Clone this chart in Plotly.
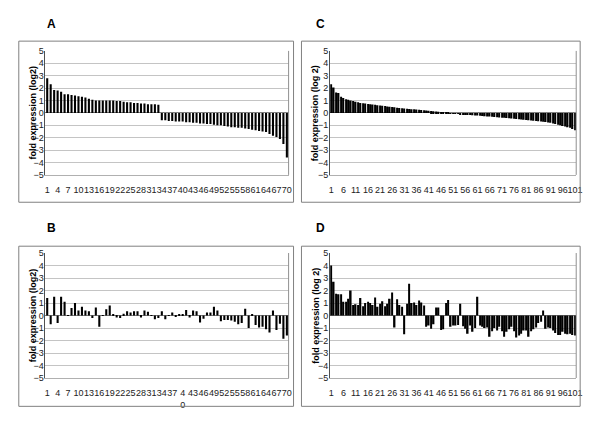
import plotly.graph_objects as go

# ---------------- data ----------------
categories_ab = list(range(1, 71))
categories_cd = list(range(1, 102))

a_values = [2.8, 2.3, 1.85, 1.8, 1.7, 1.5, 1.5, 1.45, 1.4, 1.35,
            1.3, 1.25, 1.15, 1.05, 1.0, 1.0, 1.0, 1.0, 1.0, 1.0,
            0.95, 0.95, 0.9, 0.85, 0.85, 0.8, 0.8, 0.75, 0.75, 0.7,
            0.7, 0.7, 0.65,
            -0.6, -0.6, -0.65, -0.65, -0.7, -0.7, -0.7, -0.75, -0.75, -0.8,
            -0.8, -0.85, -0.85, -0.9, -0.9, -0.95, -1.0, -1.0, -1.05, -1.1,
            -1.15, -1.15, -1.2, -1.2, -1.25, -1.3, -1.35, -1.4, -1.45, -1.5,
            -1.55, -1.7, -1.85, -1.95, -2.1, -2.5, -3.6]

b_values = [1.4, -0.7, 1.5, -0.6, 1.5, 1.1, 0.03, 0.6, 1.0, 0.4,
            0.7, 0.4, 0.35, -0.2, 0.65, -0.9, 0.02, 0.5, 0.8, 0.05,
            -0.15, -0.2, 0.15, 0.35, 0.25, 0.35, 0.35, -0.15, 0.4, 0.3,
            0.02, -0.3, -0.2, 0.35, -0.3, 0.02, 0.25, -0.1, 0.1, 0.05,
            0.45, -0.15, 0.4, 0.35, -0.55, -0.25, 0.25, 0.25, 0.7, 0.4,
            -0.45, -0.35, -0.35, -0.4, -0.5, -0.7, -0.6, 0.55, -1.0, 0.1,
            -0.75, -0.95, -0.9, -1.1, -1.35, 0.4, -1.15, -0.65, -1.85, -1.6]

c_values = [2.3, 2.05, 1.65, 1.6, 1.3, 1.2, 1.1, 1.05, 1.0, 0.95,
            0.9, 0.85, 0.8, 0.78, 0.75, 0.72, 0.7, 0.68, 0.65, 0.62,
            0.6, 0.58, 0.55, 0.52, 0.5, 0.48, 0.45, 0.42, 0.4, 0.38,
            0.36, 0.34, 0.32, 0.3, 0.3, 0.28, 0.26, 0.24, 0.22, 0.2,
            0.18, 0.15, 0.13, 0.12, 0.1, 0.08, 0.06, 0.04, 0.02,
            -0.02, -0.04, -0.06, -0.08, -0.1, -0.12, -0.14, -0.15, -0.17, -0.19,
            -0.2, -0.22, -0.24, -0.25, -0.27, -0.29, -0.3, -0.32, -0.34, -0.35,
            -0.37, -0.39, -0.4, -0.42, -0.44, -0.46, -0.48, -0.5, -0.52, -0.54,
            -0.56, -0.58, -0.6, -0.62, -0.64, -0.66, -0.68, -0.7, -0.72, -0.74,
            -0.77, -0.8, -0.85, -0.9, -0.95, -1.0, -1.05, -1.1, -1.15, -1.2,
            -1.3, -1.4]

d_values = [4.0, 2.7, 1.75, 1.7, 1.7, 1.1, 1.1, 1.35, 2.0, 0.85,
            0.9, 0.85, 1.4, 0.75, 1.0, 1.1, 1.0, 0.85, 1.45, 0.7,
            0.95, 1.15, 0.75, 0.95, 1.35, 1.85, -0.95, 1.3, 0.85, 0.7,
            -1.5, 0.95, 2.55, 1.0, 1.05, 0.85, 1.2, 1.05, 0.8, -0.9,
            -0.8, -1.05, -0.7, 0.65, 0.65, -1.15, -1.1, 1.0, 1.25, -0.9,
            -0.8, -0.8, -0.75, 0.95, -0.85, -1.05, -1.45, -0.8, -1.3, -1.0,
            1.5, -0.8, -0.9, -1.0, -0.95, -1.7, -1.25, -1.0, -1.2, -0.9,
            -1.25, -1.7, -1.3, -1.1, -0.9, -1.25, -1.75, -1.6, -1.45, -1.2,
            -1.2, -1.7, -1.25, -1.1, -0.95, -0.6, -0.5, 0.4, -1.05, -0.95,
            -1.0, -1.2, -1.4, -1.55, -1.55, -1.3, -1.45, -1.5, -1.45, -1.55,
            -1.6]

ab_tickvals = list(range(1, 71, 3))
cd_tickvals = list(range(1, 102, 5))
a_ticktext = [str(v) for v in ab_tickvals]
b_ticktext = ["4<br>0" if v == 40 else str(v) for v in ab_tickvals]
cd_ticktext = [str(v) for v in cd_tickvals]
y_ticks = list(range(-5, 6))

panel_letters = ["A", "B", "C", "D"]
y_titles = ["fold expression (log2)", "fold expression (log2)",
            "fold expression (log 2)", "fold expression (log 2)"]

# ---------------- layout helpers ----------------
W, H = 600, 425
def px(x):
    return x / W
def py(y):
    return 1 - y / H

FONT = "Liberation Sans, Arial, sans-serif"
panels = [
    dict(vals=a_values, cats=categories_ab, tv=ab_tickvals, tt=a_ticktext,
         px0=45, px1=291, pyt=47, pyb=174, box=(18, 37, 296, 202), let=(51, 19), tx=32),
    dict(vals=b_values, cats=categories_ab, tv=ab_tickvals, tt=b_ticktext,
         px0=45, px1=291, pyt=254, pyb=382, box=(18, 247, 296, 411), let=(51, 228), tx=32),
    dict(vals=c_values, cats=categories_cd, tv=cd_tickvals, tt=cd_ticktext,
         px0=333, px1=582, pyt=47, pyb=174, box=(304, 37, 586, 202), let=(323, 19), tx=318),
    dict(vals=d_values, cats=categories_cd, tv=cd_tickvals, tt=cd_ticktext,
         px0=333, px1=582, pyt=254, pyb=382, box=(304, 247, 586, 411), let=(323, 228), tx=318),
]

fig = go.Figure()
shapes = []
annotations = []
for i, p in enumerate(panels):
    n = i + 1
    xa = "x" if n == 1 else f"x{n}"
    ya = "y" if n == 1 else f"y{n}"
    fig.add_trace(go.Bar(x=p["cats"], y=p["vals"], xaxis=xa, yaxis=ya,
                         marker=dict(color="#000000", line=dict(width=0)),
                         showlegend=False, hoverinfo="x+y"))
    ydom = [py(p["pyb"]), py(p["pyt"])]
    xdom = [px(p["px0"]), px(p["px1"])]
    zero_pos = (ydom[0] + ydom[1]) / 2
    xkey = "xaxis" if n == 1 else f"xaxis{n}"
    ykey = "yaxis" if n == 1 else f"yaxis{n}"
    ncat = len(p["cats"])
    fig.update_layout(**{
        xkey: dict(domain=xdom, anchor=ya,
                   range=[0.5, ncat + 0.5], tickmode="array",
                   tickvals=p["tv"], ticktext=p["tt"], tickangle=0,
                   ticks="", showgrid=False, zeroline=False,
                   showline=True, linecolor="#b0b0b0", linewidth=1,
                   ticklabelstandoff=6,
                   tickfont=dict(family=FONT, size=9, color="#222222")),
        f"xaxis{n + 4}": dict(domain=xdom, overlaying=xa, anchor="free",
                              position=zero_pos, range=[0.5, ncat + 0.5],
                              showticklabels=False, ticks="",
                              showgrid=False, zeroline=False, showline=False,
                              minor=dict(ticks="outside", tick0=0.5, dtick=1,
                                         ticklen=3, tickcolor="#808080",
                                         showgrid=False)),
        ykey: dict(domain=ydom, anchor=xa, range=[-5, 5], tickmode="array",
                   tickvals=y_ticks, showgrid=True, gridcolor="#c4c4c4",
                   gridwidth=1, zeroline=True, zerolinecolor="#808080",
                   zerolinewidth=1, showline=True,
                   linecolor="#505050", linewidth=1, ticks="",
                   ticklabelstandoff=-1,
                   tickfont=dict(family=FONT, size=9, color="#222222")),
    })
    shapes.append(dict(type="line", xref="paper", yref="paper",
                       x0=xdom[1], x1=xdom[1], y0=ydom[0], y1=ydom[1],
                       line=dict(color="#909090", width=1)))
    bx0, by0, bx1, by1 = p["box"]
    shapes.append(dict(type="rect", xref="paper", yref="paper",
                       x0=px(bx0), x1=px(bx1), y0=py(by1), y1=py(by0),
                       line=dict(color="#808080", width=1)))
    annotations.append(dict(text=panel_letters[i], xref="paper", yref="paper",
                            x=px(p["let"][0]), y=py(p["let"][1]),
                            showarrow=False, xanchor="center", yanchor="middle",
                            font=dict(family=FONT, size=12, color="#000000",
                                      weight="bold")))
    annotations.append(dict(text=y_titles[i], xref="paper", yref="paper",
                            x=px(p["tx"]), y=zero_pos, textangle=-90,
                            showarrow=False, xanchor="center", yanchor="middle",
                            font=dict(family=FONT, size=9, color="#000000",
                                      weight="bold")))

fig.update_layout(width=W, height=H, margin=dict(l=0, r=0, t=0, b=0),
                  paper_bgcolor="white", plot_bgcolor="white",
                  bargap=0.4, shapes=shapes, annotations=annotations,
                  font=dict(family=FONT))

fig.write_html("out.html", config={"displayModeBar": False},
               post_script="document.body.style.margin='0';document.body.style.padding='0';")
